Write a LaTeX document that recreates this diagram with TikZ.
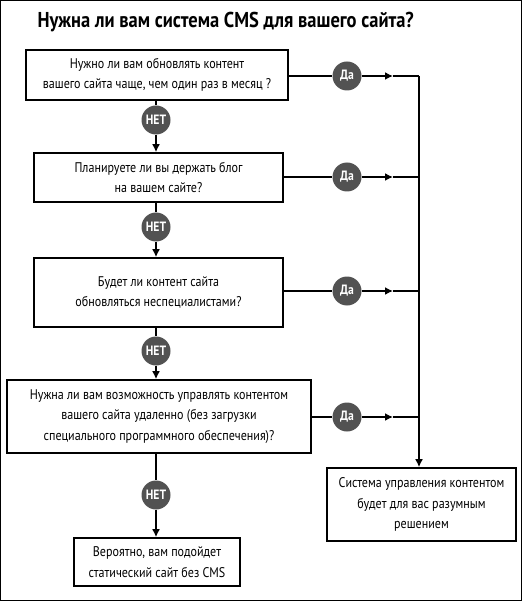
\documentclass[tikz,border=0pt]{standalone}
\usepackage{fontspec}
\setmainfont[FakeStretch=0.86]{PT Sans}
\usetikzlibrary{arrows.meta}
\begin{document}
\begin{tikzpicture}[x=1pt,y=-1pt,>={Latex[length=8pt,width=8pt]},
  qbox/.style={draw,line width=1.6pt,align=center,inner sep=0pt,font=\fontsize{14}{20.5}\selectfont},
  answer/.style={circle,fill=black!68,text=white,minimum size=29pt,inner sep=0pt,font=\bfseries\fontsize{13.5}{13.5}\selectfont},
  flow/.style={line width=1.6pt}]
\useasboundingbox (0,0) rectangle (522,601);
\draw[line width=1.2pt] (0.6,0.6) rectangle (521.4,600.4);
\node[anchor=west,font=\bfseries\fontsize{21.5}{24}\selectfont] (title) at (34,22) {Нужна ли вам система CMS для вашего сайта?};

% questions
\node[qbox,minimum width=262pt,minimum height=50pt] (q1) at (157,75) {Нужно ли вам обновлять контент\\вашего сайта чаще, чем один раз в месяц ?};
\node[qbox,minimum width=249pt,minimum height=49pt] (q2) at (158.5,177.5) {Планируете ли вы держать блог\\на вашем сайте?};
\node[qbox,minimum width=249pt,minimum height=69pt] (q3) at (158.5,292.5) {Будет ли контент сайта\\обновляться неспециалистами?};
\node[qbox,minimum width=304pt,minimum height=73pt] (q4) at (159,416.5) {Нужна ли вам возможность управлять контентом\\вашего сайта удаленно (без загрузки\\специального программного обеспечения)?};
\node[qbox,minimum width=166pt,minimum height=48pt] (static) at (157,562) {Вероятно, вам подойдет\\статический сайт без CMS};
\node[qbox,minimum width=189pt,minimum height=73pt] (cms) at (421.5,504.5) {Система управления контентом\\будет для вас разумным\\решением};

% answers
\node[answer] (no1) at (156,120) {НЕТ};
\node[answer] (no2) at (156,227) {НЕТ};
\node[answer] (no3) at (156,351) {НЕТ};
\node[answer] (no4) at (156,495) {НЕТ};
\node[answer] (yes1) at (347,76) {Да};
\node[answer] (yes2) at (347,177) {Да};
\node[answer] (yes3) at (347,291) {Да};
\node[answer] (yes4) at (347,417) {Да};

\coordinate (a1) at (393,76);
\coordinate (a2) at (393,177);
\coordinate (a3) at (393,291);
\coordinate (a4) at (393,417);
\coordinate (t1) at (419,76);
\coordinate (t2) at (419,177);
\coordinate (t3) at (419,291);
\coordinate (t4) at (419,417);

% "no" branch
\draw[flow] (q1.south -| no1) -- (no1);
\draw[flow,->] (no1) -- (q2.north -| no1);
\draw[flow] (q2.south -| no2) -- (no2);
\draw[flow,->] (no2) -- (q3.north -| no2);
\draw[flow] (q3.south -| no3) -- (no3);
\draw[flow,->] (no3) -- (q4.north -| no3);
\draw[flow] (q4.south -| no4) -- (no4);
\draw[flow,->] (no4) -- (static.north -| no4);

% "yes" branch
\draw[flow] (q1.east |- yes1) -- (yes1);
\draw[flow,->] (yes1) -- (a1);
\draw[flow] (a1) -- (t1);
\draw[flow] (q2.east |- yes2) -- (yes2);
\draw[flow,->] (yes2) -- (a2);
\draw[flow] (a2) -- (t2);
\draw[flow] (q3.east |- yes3) -- (yes3);
\draw[flow,->] (yes3) -- (a3);
\draw[flow] (a3) -- (t3);
\draw[flow] (q4.east |- yes4) -- (yes4);
\draw[flow,->] (yes4) -- (a4);
\draw[flow] (a4) -- (t4);
\draw[flow,->] (t1) -- (t1 |- cms.north);
\end{tikzpicture}
\end{document}
